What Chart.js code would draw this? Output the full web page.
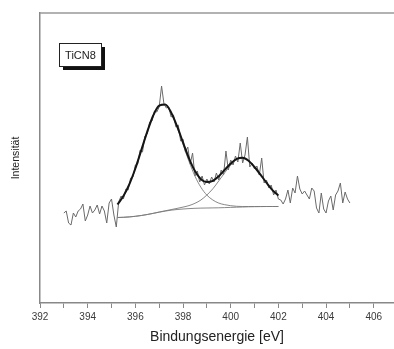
<!DOCTYPE html>
<html>
<head>
  <title>XPS N 1s – TiCN8</title>
  <script src="https://cdn.jsdelivr.net/npm/chart.js@4.4.1/dist/chart.umd.min.js"></script>
  <style>
    body {
      margin: 0;
      padding: 0;
      background: #fff;
      overflow: hidden;
    }
    canvas {
      display: block;
    }
  </style>
</head>
<body>
  <canvas id="xpsChart" width="394" height="349"></canvas>

  <script>
    // Measured spectrum, 0.1 eV steps starting at 393.0 eV
    const scanStart = 393.0;
    const scanStep = 0.1;
    const counts = [
      90, 92, 80, 78, 90, 86, 92, 94, 99, 82, 88, 97, 90, 93, 98, 89, 97, 92, 80, 100, 104, 88, 76,
      101, 107, 104, 114, 113, 125, 126, 138, 139, 153,
      151, 167, 169, 181, 182, 192, 191, 196, 217, 199,
      195, 196, 186, 188, 176, 178, 162, 164, 151, 156,
      139, 150, 127, 132, 121, 127, 118, 124, 119, 126,
      121, 130, 123, 133, 128, 152, 133, 143, 138, 147,
      141, 160, 140, 148, 166, 136, 140, 134, 137, 128,
      145, 120, 123, 115, 118, 108, 113, 104,
      103, 99, 104, 113, 100, 115, 110, 127, 114, 109, 112, 108, 104, 115, 112,
      95, 90, 110, 94, 90, 102, 107, 93, 108, 112, 120, 100, 111, 104, 100
    ];

    // Fit results, 0.25 eV steps from 395.25 to 402.0 eV
    const fitStart = 395.25;
    const fitStep = 0.25;
    const background = [
      85.5, 85.7, 86.1, 86.7, 87.5, 88.5, 89.6, 90.8, 91.9, 92.8, 93.5, 94.0, 94.4, 94.7,
      94.9, 95.0, 95.1, 95.2, 95.4, 95.6, 95.8, 96.0, 96.2, 96.3, 96.4, 96.5, 96.5, 96.5
    ];
    const peak1 = [
      98.6, 106.9, 118.9, 134.5, 152.9, 171.3, 187.4, 197.1, 198.1, 190.0, 175.7, 158.6, 141.6, 126.9,
      115.7, 107.9, 103.0, 99.9, 98.3, 97.3, 96.7, 96.5, 96.5, 96.5, 96.5, 96.5, 96.5, 96.5
    ];
    const peak2 = [
      85.5, 85.7, 86.1, 86.7, 87.5, 88.5, 89.7, 91.0, 92.2, 93.4, 94.6, 95.9, 97.4, 99.7,
      103.0, 108.0, 114.2, 122.1, 130.3, 137.8, 143.2, 144.7, 142.0, 135.8, 128.2, 120.3, 112.9, 107.4
    ];
    const envelope = [
      98.6, 106.9, 118.9, 134.5, 152.9, 171.3, 187.5, 197.3, 198.4, 190.6, 176.8, 160.5, 144.6, 131.9,
      123.8, 120.9, 122.1, 126.8, 133.2, 139.5, 144.1, 145.2, 142.3, 136.0, 128.3, 120.3, 112.9, 107.4
    ];

    const sampleName = 'TiCN8';
    const fontFamily = '"Liberation Sans", Arial, sans-serif';

    function toPoints(values, start, step) {
      return values.map((v, i) => ({ x: +(start + i * step).toFixed(2), y: v }));
    }

    // top frame line and the sample label box
    const framePlugin = {
      id: 'frame',
      afterDraw(chart) {
        const { ctx, chartArea } = chart;
        ctx.save();
        ctx.strokeStyle = '#999';
        ctx.lineWidth = 1.5;
        ctx.beginPath();
        ctx.moveTo(chartArea.left, chartArea.top);
        ctx.lineTo(chartArea.right, chartArea.top);
        ctx.stroke();

        const bx = chartArea.left + 19.5, by = chartArea.top + 30.5, bw = 42, bh = 23;
        ctx.fillStyle = '#111';
        ctx.fillRect(bx + 3.5, by + 3.5, bw, bh);
        ctx.fillStyle = '#fff';
        ctx.fillRect(bx, by, bw, bh);
        ctx.strokeStyle = '#222';
        ctx.lineWidth = 1;
        ctx.strokeRect(bx, by, bw, bh);
        ctx.fillStyle = '#222';
        ctx.font = '11px ' + fontFamily;
        ctx.textAlign = 'center';
        ctx.textBaseline = 'middle';
        ctx.fillText(sampleName, bx + bw / 2, by + bh / 2 + 0.5);
        ctx.restore();
      }
    };

    const thin = {
      borderColor: '#7a7a7a',
      borderWidth: 0.9,
      pointRadius: 0,
      cubicInterpolationMode: 'monotone',
      fill: false
    };

    new Chart(document.getElementById('xpsChart'), {
      type: 'line',
      data: {
        datasets: [
          {
            label: 'Fit',
            data: toPoints(envelope, fitStart, fitStep),
            borderColor: '#151515',
            borderWidth: 2,
            pointRadius: 0,
            cubicInterpolationMode: 'monotone',
            fill: false
          },
          { label: 'Peak 1', data: toPoints(peak1, fitStart, fitStep), ...thin },
          { label: 'Peak 2', data: toPoints(peak2, fitStart, fitStep), ...thin },
          { label: 'Untergrund', data: toPoints(background, fitStart, fitStep), ...thin },
          {
            label: 'Messung',
            data: toPoints(counts, scanStart, scanStep),
            borderColor: '#6a6a6a',
            borderWidth: 1,
            pointRadius: 0,
            tension: 0,
            fill: false
          }
        ]
      },
      options: {
        responsive: false,
        animation: false,
        devicePixelRatio: 1,
        layout: { padding: { top: 13, left: 0, right: 0, bottom: 0 } },
        plugins: {
          legend: { display: false },
          tooltip: { enabled: false }
        },
        scales: {
          x: {
            type: 'linear',
            min: 392,
            max: 406.85,
            afterFit(scale) { scale.height = 46; },
            ticks: {
              stepSize: 1,
              includeBounds: false,
              autoSkip: false,
              maxRotation: 0,
              padding: 3,
              color: '#3a3a3a',
              font: { family: fontFamily, size: 10 },
              callback: (v) => (v % 2 === 0 ? String(v) : '')
            },
            grid: {
              drawOnChartArea: false,
              drawTicks: true,
              tickLength: 5,
              color: '#888',
              lineWidth: 1
            },
            border: { display: true, color: '#888', width: 1.5 },
            title: {
              display: true,
              text: 'Bindungsenergie [eV]',
              color: '#222',
              font: { family: fontFamily, size: 14 },
              padding: { top: 0, bottom: 3 }
            }
          },
          y: {
            min: 0,
            max: 290,
            afterFit(scale) { scale.width = 40; },
            ticks: { display: false },
            grid: { display: false, drawTicks: false },
            border: { display: true, color: '#888', width: 1.5 },
            title: {
              display: true,
              text: 'Intensität',
              color: '#222',
              font: { family: fontFamily, size: 10.5 },
              padding: { top: 10, bottom: 0 }
            }
          }
        }
      },
      plugins: [framePlugin]
    });
  </script>
</body>
</html>
